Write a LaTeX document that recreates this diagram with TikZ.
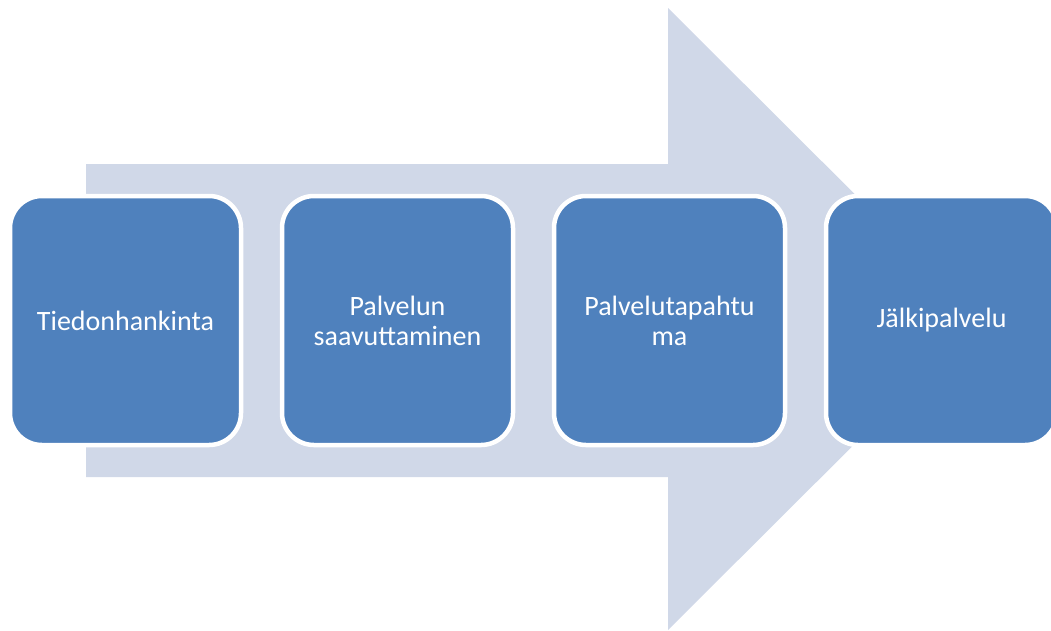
\documentclass[tikz,border=0pt]{standalone}
\usepackage{fontspec}
\setmainfont{Carlito}
\definecolor{boxblue}{HTML}{4F81BD}
\definecolor{arrowgray}{HTML}{D0D8E8}
\begin{document}
\begin{tikzpicture}[x=1pt,y=-1pt,
  stepbox/.style={draw=white, line width=4.5pt, fill=boxblue, rounded corners=32pt,
    minimum width=231pt, minimum height=249pt, inner sep=0pt, align=center,
    text=white, font=\fontsize{28}{30}\selectfont}]
\useasboundingbox (0,0) rectangle (1051,630);
\fill[arrowgray] (86,164) -- (668,164) -- (668,8) -- (980,319) -- (668,630) -- (668,477) -- (86,477) -- cycle;
\node[stepbox] (s1) at (125.5,320.5) {Tiedonhankinta};
\node[stepbox] (s2) at (397.5,320.5) {Palvelun\\saavuttaminen};
\node[stepbox] (s3) at (669.5,320.5) {Palvelutapahtu\\ma};
\node[stepbox] (s4) at (941.5,320.5) {Jälkipalvelu};
\end{tikzpicture}
\end{document}
